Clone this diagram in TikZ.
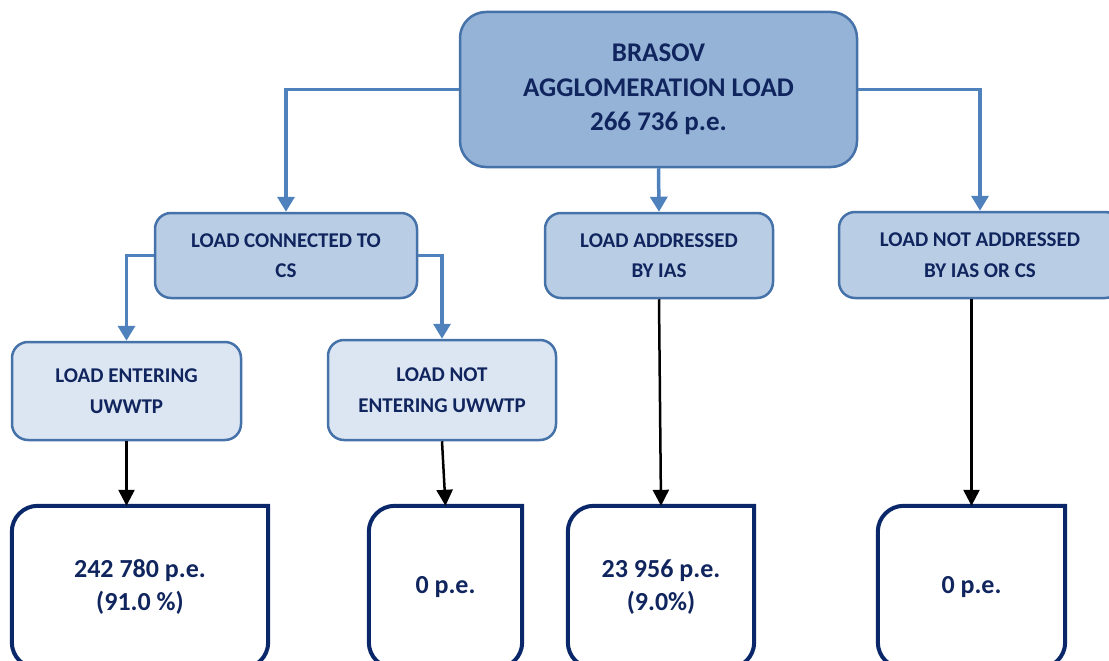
\documentclass[tikz,border=0pt]{standalone}
\usepackage{fontspec}
\setmainfont{Carlito}
\usepackage{tikz}
\usetikzlibrary{arrows.meta}

\definecolor{topfill}{RGB}{149,179,215}
\definecolor{midfill}{RGB}{185,205,229}
\definecolor{lowfill}{RGB}{220,230,242}
\definecolor{boxline}{RGB}{70,114,170}
\definecolor{linkblue}{RGB}{79,129,189}
\definecolor{navy}{RGB}{16,37,94}
\definecolor{outline}{RGB}{10,40,105}

\tikzset{
  loadbox/.style={draw=boxline, line width=2.5pt, rounded corners=16pt,
    text=navy, align=center, inner sep=0pt,
    font=\fontsize{21}{30.5}\selectfont\bfseries},
  resultbox/.style={text=navy, align=center, inner sep=0pt,
    font=\fontsize{26}{33}\selectfont\bfseries},
  resultline/.style={draw=outline, line width=4pt},
  bluelink/.style={draw=linkblue, line width=3.5pt,
    -{Triangle[width=17pt,length=15pt]}},
  blacklink/.style={draw=black, line width=2.5pt,
    -{Triangle[width=16pt,length=16pt]}}
}

\begin{document}
\begin{tikzpicture}[x=1pt, y=-1pt]
\useasboundingbox (0,0) rectangle (1109,661);
\clip (0,0) rectangle (1109,661);

\node (top) at (658.5, 89.5) [loadbox, fill=topfill, rounded corners=26pt,
  minimum width=397pt, minimum height=155pt,
  font=\fontsize{27}{34.5}\selectfont\bfseries]
  {BRASOV\\AGGLOMERATION LOAD\\266 736 p.e.};

\node (cs) at (286, 255.5) [loadbox, fill=midfill,
  minimum width=262pt, minimum height=85pt] {LOAD CONNECTED TO\\CS};
\node (ias) at (659, 255.5) [loadbox, fill=midfill,
  minimum width=228pt, minimum height=85pt] {LOAD ADDRESSED\\BY IAS};
\node (nad) at (980, 255) [loadbox, fill=midfill,
  minimum width=282pt, minimum height=86pt] {LOAD NOT ADDRESSED\\BY IAS OR CS};

\node (ent) at (126.5, 391) [loadbox, fill=lowfill,
  minimum width=229pt, minimum height=98pt] {LOAD ENTERING\\UWWTP};
\node (nent) at (442, 390) [loadbox, fill=lowfill,
  minimum width=228pt, minimum height=100pt] {LOAD NOT\\ENTERING UWWTP};

% result boxes, cut off at the bottom
\node (r1) at (140, 587) [resultbox, minimum width=256pt, minimum height=162pt]
  {242 780 p.e.\\(91.0 \%)};
\node (r2) at (445.5, 587) [resultbox, minimum width=153pt, minimum height=162pt]
  {0 p.e.};
\node (r3) at (661, 587) [resultbox, minimum width=186pt, minimum height=162pt]
  {23 956 p.e.\\(9.0\%)};
\node (r4) at (971.5, 587) [resultbox, minimum width=187pt, minimum height=162pt]
  {0 p.e.};

\foreach \r in {r1,r2,r3,r4}
  \draw[resultline] (\r.north) -- (\r.north east) [rounded corners=26pt]
    -- (\r.south east) -- (\r.south west) -- (\r.north west) -- cycle;

% links
\draw[bluelink] (top.west) -| (cs.north);
\draw[bluelink] (top.south) -- (ias.north);
\draw[bluelink] (top.east) -| (nad.north);
\draw[bluelink] (cs.west) -| (ent.north);
\draw[bluelink] (cs.east) -| (nent.north);

\draw[blacklink] (ent.south) -- (ent.south |- r1.north);
\draw[blacklink] (nent.south) -- (r2.north);
\draw[blacklink] (ias.south) -- (r3.north);
\draw[blacklink] (r4.north |- nad.south) -- (r4.north);
\end{tikzpicture}
\end{document}
